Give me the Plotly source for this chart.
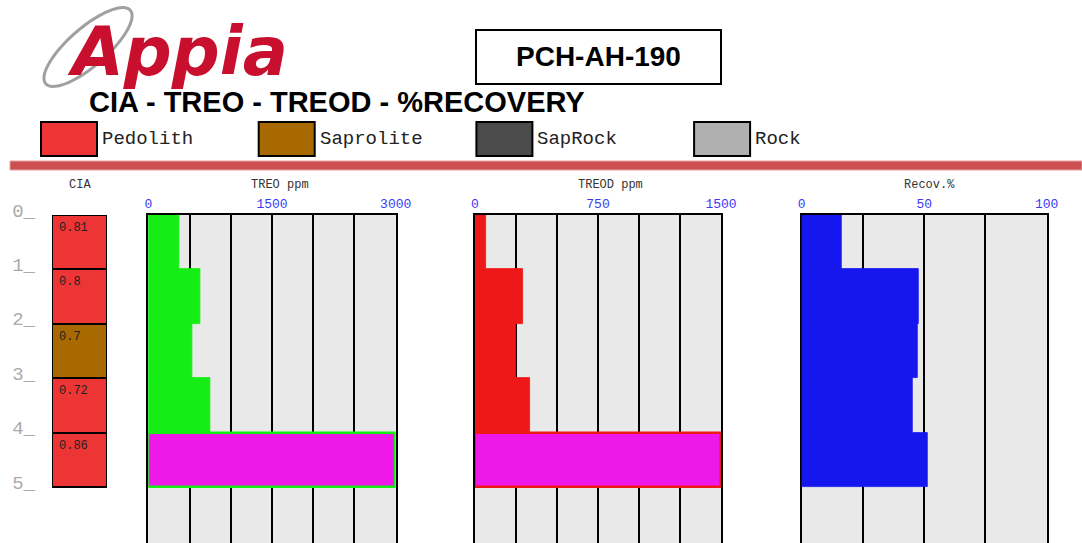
import numpy as np
import plotly.graph_objects as go

W, H = 1082, 543

# ---- data -------------------------------------------------------------
depth_top = [0, 1, 2, 3, 4]
depth_bot = [1, 2, 3, 4, 5]
depth_ticks = [0, 1, 2, 3, 4, 5, 6]

cia = [0.81, 0.8, 0.7, 0.72, 0.86]
cia_litho = ["Pedolith", "Pedolith", "Saprolite", "Pedolith", "Pedolith"]

treo = [370, 630, 535, 750, 3000]      # ppm, last interval off scale
treod = [65, 295, 248, 335, 1500]      # ppm, last interval off scale
recov = [16.5, 47.6, 47.4, 45.3, 51.4]  # %

litho_names = ["Pedolith", "Saprolite", "SapRock", "Rock"]
litho_colors = ["#EE3535", "#A86A00", "#4B4B4B", "#B0B0B0"]

hole_id = "PCH-AH-190"
title = "CIA - TREO - TREOD - %RECOVERY"

panels = [
    dict(name="TREO ppm", vals=treo, vmax=3000, ticks=[0, 1500, 3000], minor=500,
         color="#14EE14", x0=148.3, x1=395.7, head_x=280),
    dict(name="TREOD ppm", vals=treod, vmax=1500, ticks=[0, 750, 1500], minor=250,
         color="#EE1818", x0=475, x1=721, head_x=610),
    dict(name="Recov.%", vals=recov, vmax=100, ticks=[0, 50, 100], minor=25,
         color="#1616EE", x0=801.7, x1=1046.7, head_x=929),
]
OVER = "#EE18E8"
MONO = "Liberation Mono"


def px(x):
    return x / W


def py(y):
    return 1 - y / H


def label(x, y, text, font, xanchor="center"):
    # free text placed in page pixels
    return dict(x=px(x), y=py(y), xref="paper", yref="paper", text=text,
                showarrow=False, xanchor=xanchor, yanchor="middle", font=font)


mid = [(a + b) / 2 for a, b in zip(depth_top, depth_bot)]
plot_top = 215
ydom = [0, py(plot_top)]
yrange = [(H - plot_top) / 54.4, 0]

fig = go.Figure()

# ---- CIA column -------------------------------------------------------
lit_col = dict(zip(litho_names, litho_colors))
fig.add_trace(go.Bar(
    x=[1] * len(cia), y=mid, width=1, orientation="h",
    marker=dict(color=[lit_col[l] for l in cia_litho], line=dict(color="black", width=2)),
    xaxis="x", yaxis="y", hoverinfo="skip", showlegend=False,
))
annotations = []
for top, v in zip(depth_top, cia):
    annotations.append(dict(
        x=0, y=top, xref="x", yref="y", text=str(v), showarrow=False,
        xanchor="left", yanchor="top", xshift=5, yshift=-4,
        font=dict(family=MONO, size=12, color="#222"),
    ))
annotations.append(label(80, 185, "CIA", dict(family=MONO, size=12, color="#333")))

layout_axes = dict(
    xaxis=dict(domain=[px(52), px(107)], range=[0, 1], visible=False, anchor="y",
               automargin=False),
    yaxis=dict(domain=ydom, range=yrange, anchor="x", tickvals=depth_ticks,
               ticktext=[f"{d}_" for d in depth_ticks], showgrid=False, zeroline=False,
               showline=False, ticks="", ticklabelstandoff=16, ticklabelshift=5,
               automargin=False,
               tickfont=dict(family=MONO, size=19, color="#AAAAAA")),
)

shapes = []

# ---- log panels --------------------------------------------------------
for i, p in enumerate(panels, start=2):
    over = [v >= p["vmax"] for v in p["vals"]]
    fig.add_trace(go.Bar(
        x=[min(v, p["vmax"]) for v in p["vals"]], y=mid, width=1, orientation="h",
        marker=dict(color=[OVER if o else p["color"] for o in over],
                    line=dict(color=p["color"], width=[2.5 if o else 0.8 for o in over])),
        xaxis=f"x{i}", yaxis=f"y{i}", hoverinfo="skip", showlegend=False,
    ))
    layout_axes[f"xaxis{i}"] = dict(
        domain=[px(p["x0"]), px(p["x1"])], range=[0, p["vmax"]], anchor=f"y{i}",
        side="top", tickvals=p["ticks"], ticks="", zeroline=False, automargin=False,
        tickfont=dict(family=MONO, size=13, color="#3A3AF5"),
        showgrid=True, gridcolor="black", gridwidth=2,
        minor=dict(dtick=p["minor"], tick0=0, showgrid=True, gridcolor="black", gridwidth=2),
        showline=True, linecolor="black", linewidth=2, layer="below traces",
    )
    layout_axes[f"yaxis{i}"] = dict(
        domain=ydom, matches="y", anchor=f"x{i}", showticklabels=False, showgrid=False,
        zeroline=False, ticks="", showline=True, mirror=True, linecolor="black",
        linewidth=2, layer="below traces", automargin=False,
    )
    shapes.append(dict(type="rect", xref=f"x{i} domain", yref=f"y{i} domain",
                       x0=0, x1=1, y0=0, y1=1, fillcolor="#E9E9E9",
                       line=dict(width=0), layer="below"))
    annotations.append(label(p["head_x"], 185, p["name"],
                             dict(family=MONO, size=12, color="#333")))

# ---- header: logo, title, hole id, legend -----------------------------
t = np.linspace(0, 2 * np.pi, 80)
a, b, ang = 56, 19, np.deg2rad(-41)
cx, cy = 88, 47
ex = cx + a * np.cos(t) * np.cos(ang) - b * np.sin(t) * np.sin(ang)
ey = cy + a * np.cos(t) * np.sin(ang) + b * np.sin(t) * np.cos(ang)
path = "M " + " L ".join(f"{px(x):.5f},{py(y):.5f}" for x, y in zip(ex, ey)) + " Z"
shapes.append(dict(type="path", path=path, xref="paper", yref="paper",
                   line=dict(color="#A0A0A0", width=3)))
annotations.append(label(177, 52, "<b><i>Appia</i></b>",
                         dict(family="DejaVu Sans", size=67, color="#C8102E")))
annotations.append(label(336.5, 102, f"<b>{title}</b>",
                         dict(family="Liberation Sans", size=29, color="black")))
shapes.append(dict(type="rect", xref="paper", yref="paper", x0=px(476), x1=px(721),
                   y0=py(84), y1=py(30), line=dict(color="black", width=2)))
annotations.append(label(598.5, 57, f"<b>{hole_id}</b>",
                         dict(family="Liberation Sans", size=28, color="black")))

for k, (nm, col) in enumerate(zip(litho_names, litho_colors)):
    bx = 41 + k * 217.7
    shapes.append(dict(type="rect", xref="paper", yref="paper", x0=px(bx), x1=px(bx + 56),
                       y0=py(156), y1=py(122), fillcolor=col,
                       line=dict(color="black", width=2)))
    annotations.append(label(bx + 59, 139, nm, dict(family=MONO, size=19, color="#222"),
                             xanchor="left"))

shapes.append(dict(type="rect", xref="paper", yref="paper", x0=px(10), x1=1,
                   y0=py(170), y1=py(161), fillcolor="#CC5050",
                   line=dict(color="#E4A0A0", width=1)))

fig.update_layout(
    template="none",
    width=W, height=H, margin=dict(l=0, r=0, t=0, b=0, autoexpand=False),
    paper_bgcolor="white", plot_bgcolor="rgba(0,0,0,0)",
    bargap=0, showlegend=False, shapes=shapes, annotations=annotations,
    **layout_axes,
)

fig.write_html("out.html", config={"displayModeBar": False},
               post_script="document.body.style.margin='0';")
